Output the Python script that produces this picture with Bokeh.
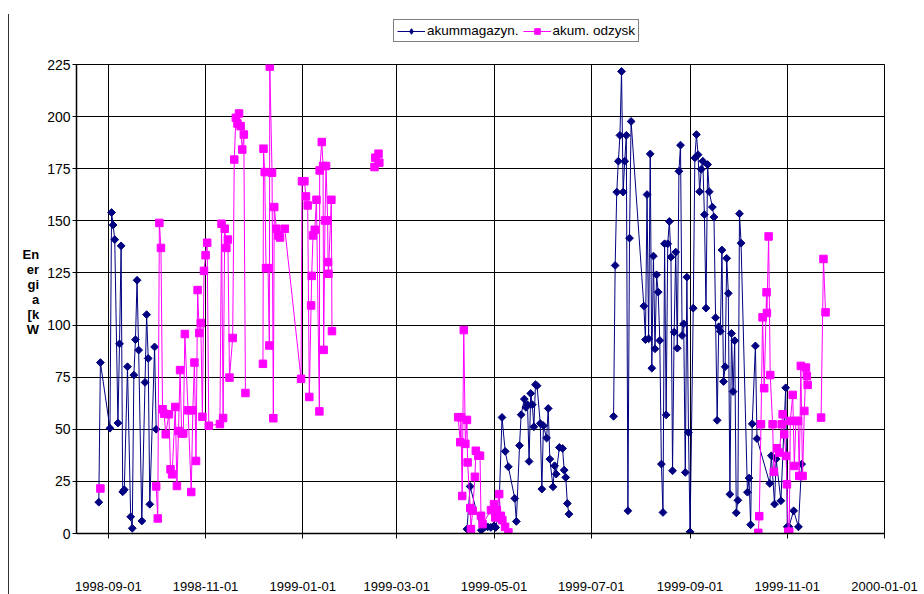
import datetime as dt
import numpy as np
from bokeh.plotting import figure
from bokeh.layouts import row, column
from bokeh.models import (FixedTicker, DatetimeTickFormatter, Range1d, ColumnDataSource,
                          Legend, LegendItem, Div)
from bokeh.embed import file_html
from bokeh.resources import INLINE

# ---------------- data ----------------
X_TICKS = ["1998-09-01", "1998-11-01", "1999-01-01", "1999-03-01", "1999-05-01",
           "1999-07-01", "1999-09-01", "1999-11-01", "2000-01-01"]
Y_TICKS = [0, 25, 50, 75, 100, 125, 150, 175, 200, 225]
SERIES_NAMES = ["akummagazyn.", "akum. odzysk"]
Y_TITLE_LINES = ["En", "er", "gi", "a", "[k", "W"]

# series 1: akum magazyn. (segments separated by gaps)
MAG_A_DATES = ["1998-08-26", "1998-08-27", "1998-09-02", "1998-09-03", "1998-09-04", "1998-09-05",
               "1998-09-07", "1998-09-08", "1998-09-09", "1998-09-10", "1998-09-11", "1998-09-13",
               "1998-09-15", "1998-09-16", "1998-09-17", "1998-09-18", "1998-09-19", "1998-09-20",
               "1998-09-22", "1998-09-24", "1998-09-25", "1998-09-26", "1998-09-27", "1998-09-30",
               "1998-10-01"]
MAG_A_VALUES = [15, 82, 50.5, 154, 148, 141, 53, 91, 138, 20, 21, 80, 8, 2.5, 76, 93, 121.5, 88,
                6, 72.5, 105, 84, 14, 89.5, 50]

MAG_B_DATES = ["1999-04-14", "1999-04-16", "1999-04-23", "1999-04-25", "1999-04-27", "1999-04-29",
               "1999-05-01", "1999-05-02", "1999-05-04", "1999-05-06", "1999-05-08", "1999-05-10",
               "1999-05-14", "1999-05-15", "1999-05-17", "1999-05-18", "1999-05-20", "1999-05-21",
               "1999-05-22", "1999-05-23", "1999-05-24", "1999-05-25", "1999-05-26", "1999-05-27",
               "1999-05-28", "1999-05-30", "1999-05-31", "1999-06-01", "1999-06-03", "1999-06-04",
               "1999-06-05", "1999-06-07", "1999-06-08", "1999-06-09", "1999-06-11", "1999-06-13",
               "1999-06-14", "1999-06-15", "1999-06-16", "1999-06-17"]
MAG_B_VALUES = [2.1, 22.6, 1.6, 3.0, 3.2, 2.9, 3.7, 2.9, 9.5, 55.7, 39.4, 32, 16.8, 5.8, 42.2, 57,
                64.5, 60.5, 61.8, 34.6, 67.2, 61.8, 51.2, 71.4, 70.9, 52.8, 21.3, 51.7, 45.8, 60,
                35.7, 22.4, 32.5, 28.5, 41.3, 40.8, 30.4, 26.9, 14.4, 9.3]

MAG_C_DATES = ["1999-07-15", "1999-07-16", "1999-07-17", "1999-07-18", "1999-07-19", "1999-07-20",
               "1999-07-21", "1999-07-22", "1999-07-23", "1999-07-24", "1999-07-25", "1999-07-26",
               "1999-08-03", "1999-08-04", "1999-08-05", "1999-08-06", "1999-08-07", "1999-08-08",
               "1999-08-09", "1999-08-10", "1999-08-11", "1999-08-12", "1999-08-13", "1999-08-14",
               "1999-08-15", "1999-08-16", "1999-08-17", "1999-08-18", "1999-08-19", "1999-08-20",
               "1999-08-21", "1999-08-22", "1999-08-23", "1999-08-24", "1999-08-25", "1999-08-26",
               "1999-08-27", "1999-08-28", "1999-08-29", "1999-08-30", "1999-08-31",
               "1999-09-01", "1999-09-03", "1999-09-04", "1999-09-05", "1999-09-06", "1999-09-07",
               "1999-09-08", "1999-09-09", "1999-09-10", "1999-09-11", "1999-09-12", "1999-09-13",
               "1999-09-15", "1999-09-16", "1999-09-17", "1999-09-18", "1999-09-19", "1999-09-20",
               "1999-09-21", "1999-09-22", "1999-09-23", "1999-09-24", "1999-09-25", "1999-09-26",
               "1999-09-27", "1999-09-28", "1999-09-29", "1999-09-30",
               "1999-10-01", "1999-10-02", "1999-10-03", "1999-10-07", "1999-10-08", "1999-10-09",
               "1999-10-10", "1999-10-12", "1999-10-13", "1999-10-21", "1999-10-22", "1999-10-24",
               "1999-10-25", "1999-10-28", "1999-10-31", "1999-11-01", "1999-11-02", "1999-11-05",
               "1999-11-08", "1999-11-10"]
MAG_C_VALUES = [56.2, 128.6, 163.8, 178.6, 191, 221.7, 163.8, 178.6, 191, 10.9, 141.7, 197.7,
                109.1, 93, 162.6, 93.4, 182.1, 79.3, 133.1, 88.6, 124.1, 115.8, 92.6, 33.3,
                10.1, 139, 56.9, 139, 149.7, 132.6, 30.1, 96.6, 135, 88.9, 173.8, 186.3,
                95, 100.6, 29.3, 123, 48.5,
                0.8, 108.1, 180.2, 191.4, 181.7, 164, 174.7, 178.6, 153, 108.1, 177, 164,
                156.6, 151.8, 103.5, 54.3, 99.2, 97, 136, 72.9, 80, 132, 115.2, 18.8,
                96, 68.1, 92.5, 9.9,
                15.9, 153.4, 139.3, 19.8, 26.6, 4.2, 52.6, 90, 45.5, 24, 37.3, 14.1,
                35.7, 15.7, 69.9, 3.2, 3.2, 10.9, 3.2, 33.3]

# series 2: akum. odzysk
ODZ_A_DATES = ["1998-08-27"]
ODZ_A_VALUES = [21.6]

ODZ_B_DATES = ["1998-10-01", "1998-10-02", "1998-10-03", "1998-10-04", "1998-10-05", "1998-10-06",
               "1998-10-07", "1998-10-09", "1998-10-10", "1998-10-11", "1998-10-13", "1998-10-14",
               "1998-10-15", "1998-10-16", "1998-10-17", "1998-10-18", "1998-10-19", "1998-10-21",
               "1998-10-23", "1998-10-24", "1998-10-25", "1998-10-26", "1998-10-27", "1998-10-28",
               "1998-10-29", "1998-10-30", "1998-10-31",
               "1998-11-01", "1998-11-02", "1998-11-03", "1998-11-10", "1998-11-11", "1998-11-12",
               "1998-11-13", "1998-11-14", "1998-11-15", "1998-11-16", "1998-11-18", "1998-11-19",
               "1998-11-20", "1998-11-21", "1998-11-22", "1998-11-23", "1998-11-24", "1998-11-25",
               "1998-11-26"]
ODZ_B_VALUES = [22.6, 7.2, 149, 137, 59.6, 57.5, 47.6, 57.2, 30.8, 28.4, 60.7, 22.8, 49.2, 78.4,
                48, 48, 95.7, 59.1, 19.9, 59.1, 82, 34.8, 116.8, 96.2, 101, 56, 126,
                133.5, 139.5, 51.7, 52.5, 148.6, 55.4, 146.2, 137, 141, 74.8, 93.8, 179.4,
                199.4, 196.7, 201.5, 195.4, 184.2, 191.4, 67.4]

ODZ_C_DATES = ["1998-12-07T00", "1998-12-07T08", "1998-12-08T02", "1998-12-08T22", "1998-12-10T05",
               "1998-12-11T00", "1998-12-11T07", "1998-12-12T17", "1998-12-13T12", "1998-12-14T02",
               "1998-12-15T10", "1998-12-16T12", "1998-12-17T17", "1998-12-20T17",
               "1998-12-30T22", "1998-12-31T12", "1999-01-02T00", "1999-01-03T00", "1999-01-04T02",
               "1999-01-05T02", "1999-01-06T05", "1999-01-06T14", "1999-01-07T10", "1999-01-08T12",
               "1999-01-09T14", "1999-01-11T10", "1999-01-11T14", "1999-01-12T22", "1999-01-13T17",
               "1999-01-14T02", "1999-01-14T22", "1999-01-15T14", "1999-01-16T14", "1999-01-16T20",
               "1999-01-17T02", "1999-01-18T22", "1999-01-19T07"]
ODZ_C_VALUES = [81.4, 184.6, 173.4, 127.3, 127.3, 90.2, 224, 173.1, 55.3, 156.6, 146.2, 143, 142,
                146.2, 74.2, 169, 169, 161.7, 157.4, 65.5, 109.4, 123.6, 143, 145.7, 160.1, 58.6,
                174.2, 187.8, 176.3, 88.1, 150.2, 176.3, 150.2, 130.2, 124.6, 160.1, 97.1]

ODZ_D_DATES = ["1999-02-15T00", "1999-02-15T12", "1999-02-17T12", "1999-02-18T00"]
ODZ_D_VALUES = [175.8, 180.3, 182.2, 177.9]

ODZ_E_DATES = ["1999-04-08T12", "1999-04-09T19", "1999-04-10T05", "1999-04-11T00", "1999-04-12T00",
               "1999-04-13T00", "1999-04-14T00", "1999-04-14T10", "1999-04-16T02", "1999-04-16T12",
               "1999-04-17T14", "1999-04-19T00", "1999-04-19T14", "1999-04-21T02", "1999-04-22T05",
               "1999-04-22T19", "1999-04-23T19", "1999-04-29T02", "1999-05-01T00", "1999-05-01T19",
               "1999-05-02T19", "1999-05-04T05", "1999-05-05T05", "1999-05-06T05", "1999-05-07T22",
               "1999-05-10T00"]
ODZ_E_VALUES = [55.8, 43.8, 55.8, 18, 97.6, 43, 54.5, 34.1, 12.2, 2.1, 10.9, 27.2, 39.7, 37.3,
                37.3, 8.5, 4.5, 11.2, 14.1, 7.7, 11.2, 18.9, 8.5, 6.4, 3.2, 0.5]

ODZ_F_DATES = ["1999-10-13T19", "1999-10-14T10", "1999-10-15T12", "1999-10-16T12", "1999-10-17T12",
               "1999-10-19T00", "1999-10-19T05", "1999-10-20T07", "1999-10-21T07", "1999-10-22T19",
               "1999-10-23T14", "1999-10-25T12", "1999-10-27T00", "1999-10-28T12", "1999-10-29T02",
               "1999-10-30T02", "1999-10-31T05", "1999-10-31T19", "1999-11-01T14", "1999-11-02T05",
               "1999-11-02T22", "1999-11-04T10", "1999-11-05T10", "1999-11-06T10", "1999-11-07T19",
               "1999-11-08T12", "1999-11-09T12", "1999-11-10T14", "1999-11-11T17", "1999-11-12T17",
               "1999-11-13T07", "1999-11-13T19"]
ODZ_F_VALUES = [0.3, 8.3, 52.4, 103.7, 69.7, 115.7, 105.8, 142.5, 76, 52.4, 29.6, 40.9, 38.8,
                52.4, 57.2, 47.6, 37.2, 23.6, 0.8, 0.8, 54, 66.5, 32.4, 54, 54, 27.6, 80.4,
                27.6, 58.8, 79.6, 75.6, 71.3]

ODZ_G_DATES = ["1999-11-22T05", "1999-11-23T17", "1999-11-25T00"]
ODZ_G_VALUES = [55.6, 131.7, 106.1]


def build(segments):
    """Join segments; a NaN row between segments breaks the line (blank cells)."""
    xs, ys = [], []
    for i, (dates, vals) in enumerate(segments):
        if i:
            xs.append(np.datetime64(dates[0], "h"))
            ys.append(np.nan)
        xs.extend(np.datetime64(d, "h") for d in dates)
        ys.extend(vals)
    return np.array(xs, dtype="datetime64[ms]"), np.array(ys, dtype=float)


mag_x, mag_y = build([(MAG_A_DATES, MAG_A_VALUES), (MAG_B_DATES, MAG_B_VALUES),
                      (MAG_C_DATES, MAG_C_VALUES)])
odz_x, odz_y = build([(ODZ_A_DATES, ODZ_A_VALUES), (ODZ_B_DATES, ODZ_B_VALUES),
                      (ODZ_C_DATES, ODZ_C_VALUES), (ODZ_D_DATES, ODZ_D_VALUES),
                      (ODZ_E_DATES, ODZ_E_VALUES), (ODZ_F_DATES, ODZ_F_VALUES),
                      (ODZ_G_DATES, ODZ_G_VALUES)])

src_mag = ColumnDataSource(dict(x=mag_x, y=mag_y))
src_odz = ColumnDataSource(dict(x=odz_x, y=odz_y))

# ---------------- styling constants ----------------
FONT = "Liberation Sans"
NAVY = "#000080"
MAGENTA = "#FF00FF"
EDGE = 9        # strip holding the chart-area edge line
TOP_H = 48      # strip above the plot holding the legend
W = 924 - EDGE
FRAME_LEFT = 76  # page x of the plotting area's left edge

MAG_STYLE = dict(line=dict(line_color=NAVY, line_width=1),
                 marker=dict(marker="square", angle=np.pi / 4, size=5.5,
                             fill_color=NAVY, line_color=NAVY))
ODZ_STYLE = dict(line=dict(line_color=MAGENTA, line_width=1),
                 marker=dict(marker="square", size=7.5, fill_color=MAGENTA,
                             line_color=MAGENTA))

# ---------------- main figure ----------------
p = figure(width=W, height=594 - TOP_H, x_axis_type="datetime",
           x_range=Range1d(dt.datetime(1998, 8, 12), dt.datetime(2000, 1, 1)),
           y_range=Range1d(0, 225),
           output_backend="svg", toolbar_location=None,
           min_border_left=FRAME_LEFT - EDGE, min_border_right=40, min_border_top=64 - TOP_H,
           min_border_bottom=61)
p.background_fill_color = "white"
p.border_fill_color = "white"
p.outline_line_color = "black"
p.outline_line_width = 1

x_tick_ms = [float(np.datetime64(t, "ms").astype(np.int64)) for t in X_TICKS]
fmt = "%Y-%m-%d"
formatter = DatetimeTickFormatter(microseconds=fmt, milliseconds=fmt, seconds=fmt, minsec=fmt,
                                  minutes=fmt, hourmin=fmt, hours=fmt, days=fmt, months=fmt,
                                  years=fmt)

xa = p.xaxis[0]
xa.ticker = FixedTicker(ticks=x_tick_ms)
xa.formatter = formatter
xa.major_tick_out = 5
xa.major_tick_in = 0
xa.minor_tick_out = 0
xa.minor_tick_in = 0
xa.major_label_standoff = 43
xa.major_label_text_font = FONT
xa.major_label_text_font_size = "13px"
xa.major_label_text_color = "black"
xa.axis_line_color = "black"
xa.axis_line_width = 1.5
xa.major_tick_line_color = "black"

ya = p.yaxis[0]
ya.ticker = FixedTicker(ticks=Y_TICKS)
ya.major_tick_out = 4
ya.major_tick_in = 0
ya.minor_tick_out = 0
ya.minor_tick_in = 0
ya.major_label_standoff = 2
ya.major_label_text_font = FONT
ya.major_label_text_font_size = "14px"
ya.major_label_text_color = "black"
ya.axis_line_color = "black"
ya.axis_line_width = 1.5
ya.major_tick_line_color = "black"
# vertical title written one syllable per line; a trailing blank line lifts the block
ya.axis_label = "\n".join(Y_TITLE_LINES) + "\n "
ya.axis_label_orientation = "horizontal"
ya.axis_label_text_align = "left"
ya.axis_label_text_font = FONT
ya.axis_label_text_font_size = "13px"
ya.axis_label_text_font_style = "bold"
ya.axis_label_text_color = "black"
ya.axis_label_text_line_height = 1.0
ya.axis_label_standoff = 5

p.xgrid.ticker = FixedTicker(ticks=x_tick_ms)
p.ygrid.ticker = FixedTicker(ticks=Y_TICKS)
for g in (p.xgrid, p.ygrid):
    g.grid_line_color = "black"
    g.grid_line_width = 1
    g.grid_line_alpha = 1

p.line("x", "y", source=src_mag, **MAG_STYLE["line"])
p.scatter("x", "y", source=src_mag, **MAG_STYLE["marker"])
p.line("x", "y", source=src_odz, **ODZ_STYLE["line"])
p.scatter("x", "y", source=src_odz, **ODZ_STYLE["marker"])

# ---------------- legend strip above the plot ----------------
lf = figure(width=W, height=TOP_H, x_range=Range1d(0, 1), y_range=Range1d(0, 1),
            output_backend="svg", toolbar_location=None,
            x_axis_location=None, y_axis_location=None, min_border=0)
lf.outline_line_color = None
lf.grid.visible = False
lf.background_fill_color = "white"
lf.border_fill_color = "white"
# points placed outside the visible range: only the legend swatches show
offscreen = ColumnDataSource(dict(x=[-5, -4], y=[-5, -4]))
k1 = lf.line("x", "y", source=offscreen, **MAG_STYLE["line"])
k2 = lf.scatter("x", "y", source=offscreen, marker="diamond", size=9.5,
                fill_color=NAVY, line_color=NAVY)
k3 = lf.line("x", "y", source=offscreen, **ODZ_STYLE["line"])
k4 = lf.scatter("x", "y", source=offscreen, **ODZ_STYLE["marker"])

lg = Legend(items=[LegendItem(label=SERIES_NAMES[0], renderers=[k1, k2]),
                   LegendItem(label=SERIES_NAMES[1], renderers=[k3, k4])],
            location=(393 - FRAME_LEFT, TOP_H - 42), orientation="horizontal")
lg.border_line_color = "black"
lg.border_line_width = 1
lg.background_fill_color = "white"
lg.background_fill_alpha = 1
lg.padding = 3
lg.margin = 0
lg.spacing = 4
lg.glyph_width = 28
lg.glyph_height = 14
lg.label_height = 14
lg.label_standoff = 2
lg.label_text_font = FONT
lg.label_text_font_size = "13.5px"
lg.label_text_color = "black"
lf.add_layout(lg)

# thin edge line of the chart area on the far left
edge = Div(text="", width=EDGE, height=580, margin=(14, 0, 0, 0),
           styles={"border-right": "1.5px solid #333333", "box-sizing": "border-box"})

layout = row(edge, column(lf, p, spacing=0), spacing=0)
open("out.html", "w").write(file_html(layout, INLINE))
